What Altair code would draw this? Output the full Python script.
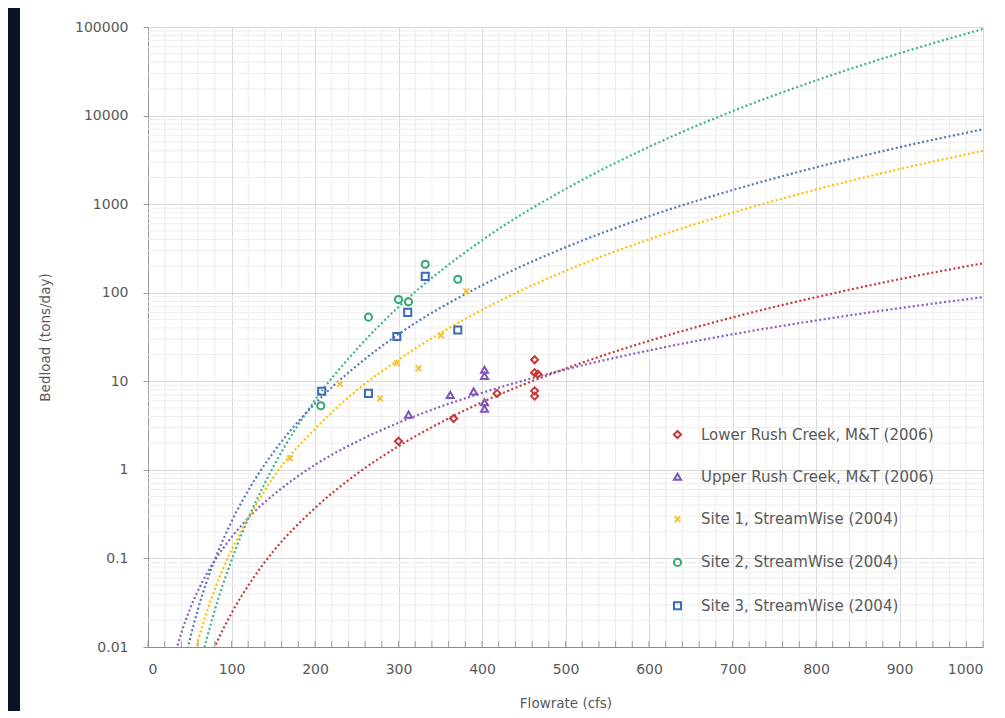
import altair as alt
import pandas as pd

# ---------------- data ----------------
series_names = [
    "Lower Rush Creek, M&T (2006)",
    "Upper Rush Creek, M&T (2006)",
    "Site 1, StreamWise (2004)",
    "Site 2, StreamWise (2004)",
    "Site 3, StreamWise (2004)",
]

# measured points (flowrate cfs, bedload tons/day)
lower_x = [300, 366, 418, 463, 463, 467, 463, 463]
lower_y = [2.1, 3.8, 7.3, 17.5, 12.5, 12.0, 7.8, 6.8]
upper_x = [312, 362, 390, 403, 403, 403, 403]
upper_y = [4.2, 7.0, 7.7, 13.5, 11.5, 5.8, 4.9]
site1_x = [170, 230, 278, 298, 324, 351, 381]
site1_y = [1.35, 9.3, 6.4, 16.0, 14.0, 33.0, 104.0]
site2_x = [207, 264, 300, 312, 332, 371]
site2_y = [5.3, 53.0, 84.0, 79.0, 210.0, 142.0]
site3_x = [208, 264, 298, 311, 332, 371]
site3_y = [7.7, 7.3, 32.0, 60.0, 153.0, 38.0]

# power trendlines
lower_tx = [75, 80, 100, 125, 150, 200, 250, 300, 350, 400, 500, 600, 700, 800, 900, 1000]
lower_ty = [0.0077, 0.010, 0.024, 0.058, 0.12, 0.37, 0.90, 1.85, 3.4, 5.8, 13.9, 28.6, 52.6, 89, 142, 215]
upper_tx = [30, 35, 40, 50, 60, 80, 100, 125, 150, 200, 250, 300, 400, 500, 600, 700, 800, 900, 1000]
upper_ty = [0.0066, 0.0101, 0.0145, 0.0265, 0.0435, 0.095, 0.173, 0.32, 0.52, 1.14, 2.08, 3.4, 7.4, 13.6, 22.3, 33.9, 48.6, 66.9, 89]
site1_tx = [55, 60, 80, 100, 125, 150, 200, 250, 300, 400, 500, 600, 700, 800, 900, 1000]
site1_ty = [0.0083, 0.012, 0.045, 0.124, 0.34, 0.82, 2.9, 7.9, 17.5, 64, 176, 400, 800, 1460, 2490, 4000]
site2_tx = [60, 70, 80, 100, 125, 150, 200, 250, 300, 400, 500, 600, 700, 800, 900, 1000]
site2_ty = [0.0050, 0.012, 0.026, 0.095, 0.36, 1.08, 6.1, 23, 69, 390, 1480, 4430, 11200, 24900, 50500, 95000]
site3_tx = [45, 50, 60, 80, 100, 125, 150, 200, 250, 300, 400, 500, 600, 700, 800, 900, 1000]
site3_ty = [0.0076, 0.012, 0.027, 0.097, 0.26, 0.70, 1.57, 5.6, 15, 34, 121, 325, 730, 1440, 2600, 4390, 7000]

x_ticks = [0, 100, 200, 300, 400, 500, 600, 700, 800, 900, 1000]
y_ticks = [0.01, 0.1, 1, 10, 100, 1000, 10000, 100000]

# ---------------- styling ----------------
marker_colors = ["#C8373A", "#7D55B5", "#F7C23C", "#2FA86E", "#3A6DB5"]
line_colors = ["#C8373A", "#8A5CC0", "#FFC000", "#3CB48A", "#5577B5"]
x_shape = "M-0.8,-0.8L0.8,0.8M-0.8,0.8L0.8,-0.8"
shapes = ["diamond", "triangle-up", x_shape, "circle", "square"]

FONT = "DejaVu Sans"
TXT = "#595959"
W, H = 835, 620

pts = []
for name, xs, ys in zip(series_names,
                        [lower_x, upper_x, site1_x, site2_x, site3_x],
                        [lower_y, upper_y, site1_y, site2_y, site3_y]):
    pts += [{"flow": a, "load": b, "series": name} for a, b in zip(xs, ys)]
pts = pd.DataFrame(pts)

trend = []
for name, xs, ys in zip(series_names,
                        [lower_tx, upper_tx, site1_tx, site2_tx, site3_tx],
                        [lower_ty, upper_ty, site1_ty, site2_ty, site3_ty]):
    trend += [{"flow": a, "load": b, "trend_series": name} for a, b in zip(xs, ys)]
trend = pd.DataFrame(trend)

x_scale = alt.Scale(domain=[0, 1000], nice=False, zero=False)
y_scale = alt.Scale(type="log", domain=[0.01, 100000], nice=False)

x_axis = alt.Axis(values=x_ticks, title="Flowrate (cfs)", format="d", ticks=False, labelPadding=15,
                  titlePadding=20, grid=True, domainColor="#8A8A8A")
y_axis = alt.Axis(values=y_ticks, title="Bedload (tons/day)", format="~g", tickSize=5,
                  labelPadding=15, titlePadding=22, grid=True)

x_minor = [v for v in range(0, 1001, 20) if v % 100]
y_minor = [m * 10.0 ** e for e in range(-2, 5) for m in range(2, 10)]
x_small_ticks = list(range(0, 1001, 20))

strip = alt.Chart(alt.Data(values=[{}])).mark_rect(color="#0A1325", clip=False).encode(
    x=alt.value(-140), x2=alt.value(-128), y=alt.value(-19), y2=alt.value(H + 64)
)

grid_x = alt.Chart(pd.DataFrame({"flow": x_minor})).mark_rule(color="#EDEDED", strokeWidth=1).encode(
    x=alt.X("flow:Q", scale=x_scale, axis=x_axis)
)
grid_y = alt.Chart(pd.DataFrame({"load": y_minor})).mark_rule(color="#EDEDED", strokeWidth=1).encode(
    y=alt.Y("load:Q", scale=y_scale, axis=y_axis)
)
inner_ticks = alt.Chart(pd.DataFrame({"flow": x_small_ticks})).mark_tick(
    color="#777777", thickness=1, size=6, orient="vertical"
).encode(
    x=alt.X("flow:Q", scale=x_scale, axis=x_axis), y=alt.value(H - 3)
)

# reversed domain order so the (hidden) stroke legend is not merged with the marker legend
lines = alt.Chart(trend).mark_line(strokeDash=[2, 2.5], strokeWidth=2.2, clip=True,
                                   interpolate="monotone").encode(
    x=alt.X("flow:Q", scale=x_scale, axis=x_axis),
    y=alt.Y("load:Q", scale=y_scale, axis=y_axis),
    stroke=alt.Stroke("trend_series:N",
                      scale=alt.Scale(domain=series_names[::-1], range=line_colors[::-1]),
                      legend=None),
    detail="trend_series:N",
)

legend = alt.Legend(title=None, orient="none", legendX=522, legendY=400,
                    labelFontSize=15, labelColor=TXT, labelFont=FONT,
                    rowPadding=26.3, symbolSize=50, symbolStrokeWidth=2,
                    labelOffset=16, labelLimit=400)

points = alt.Chart(pts).mark_point(filled=False, strokeWidth=2, size=50, opacity=1).encode(
    x=alt.X("flow:Q", scale=x_scale, axis=x_axis),
    y=alt.Y("load:Q", scale=y_scale, axis=y_axis),
    color=alt.Color("series:N", scale=alt.Scale(domain=series_names, range=marker_colors), legend=legend),
    shape=alt.Shape("series:N", scale=alt.Scale(domain=series_names, range=shapes), legend=legend),
)

chart = alt.layer(strip, grid_x, grid_y, lines, points, inner_ticks).properties(
    width=W, height=H,
    padding={"left": 140, "top": 19, "right": 14, "bottom": 64},
    autosize=alt.AutoSizeParams(type="none"),
    background="white",
).configure_view(stroke=None).configure_axis(
    labelFont=FONT, titleFont=FONT, labelColor=TXT, titleColor=TXT,
    labelFontSize=14, titleFontSize=13.5, titleFontWeight="normal",
    gridColor="#D9D9D9", gridWidth=1, domainColor="#9A9A9A", tickColor="#9A9A9A",
)

chart.save("out.html", embed_options={"renderer": "svg", "actions": False})
